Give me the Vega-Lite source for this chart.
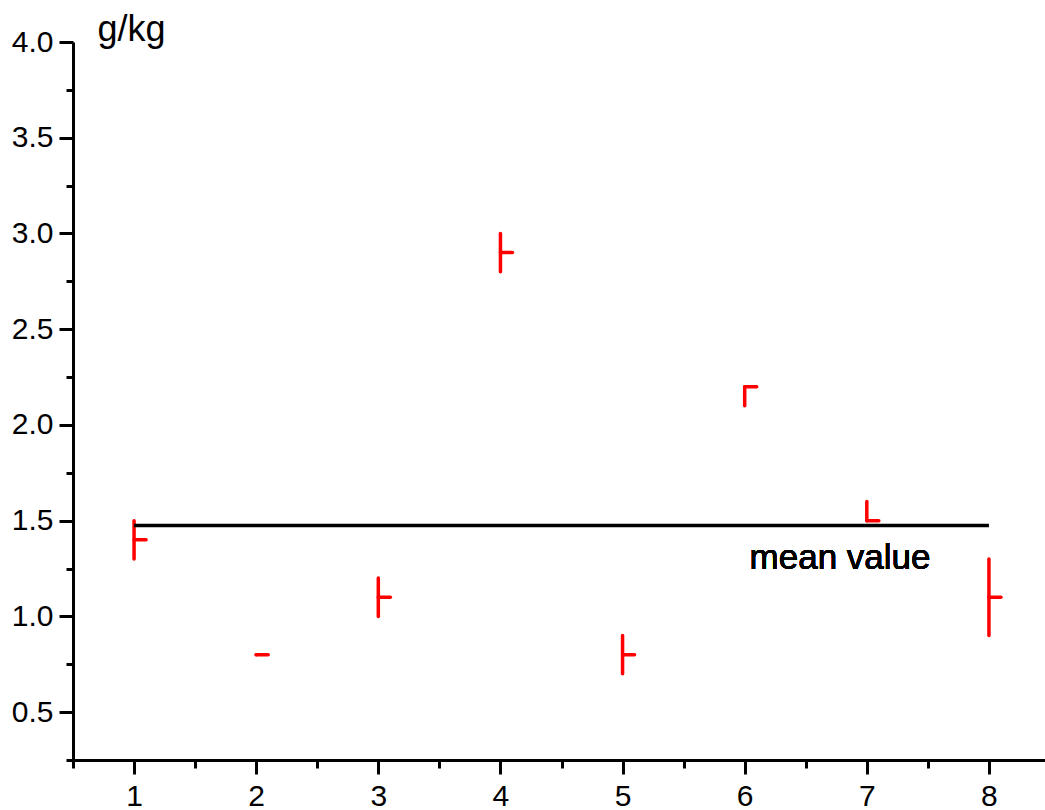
{
  "$schema": "https://vega.github.io/schema/vega-lite/v6.json",
  "width": 977,
  "height": 718,
  "autosize": {"type": "none"},
  "padding": {"left": 73, "top": 42, "right": 0, "bottom": 50},
  "background": "white",
  "config": {"view": {"stroke": null}, "font": "Liberation Sans"},
  "data": {
    "values": [
      {"x": 1, "low": 1.3, "high": 1.5, "value": 1.4},
      {"x": 2, "low": 0.8, "high": 0.8, "value": 0.8},
      {"x": 3, "low": 1.0, "high": 1.2, "value": 1.1},
      {"x": 4, "low": 2.8, "high": 3.0, "value": 2.9},
      {"x": 5, "low": 0.7, "high": 0.9, "value": 0.8},
      {"x": 6, "low": 2.1, "high": 2.2, "value": 2.2},
      {"x": 7, "low": 1.5, "high": 1.6, "value": 1.5},
      {"x": 8, "low": 0.9, "high": 1.3, "value": 1.1}
    ]
  },
  "layer": [
    {
      "mark": {"type": "rule", "color": "#ff0000", "strokeWidth": 3.5, "strokeCap": "round"},
      "encoding": {
        "x": {
          "field": "x", "type": "quantitative",
          "scale": {"domain": [0.5, 8.5], "nice": false, "zero": false},
          "axis": {
            "values": [0.5, 1, 1.5, 2, 2.5, 3, 3.5, 4, 4.5, 5, 5.5, 6, 6.5, 7, 7.5, 8, 8.5],
            "title": null, "grid": false,
            "domainColor": "black", "domainWidth": 3,
            "tickColor": "black", "tickWidth": 3,
            "tickSize": {"condition": {"test": "datum.value % 1 === 0", "value": 14}, "value": 8},
            "labelExpr": "datum.value % 1 === 0 ? format(datum.value, 'd') : ''",
            "labelFontSize": 30, "labelColor": "black", "labelPadding": 7,
            "labelFont": "Liberation Sans", "labelFlush": false, "labelOverlap": false, "labelBound": false
          }
        },
        "y": {
          "field": "low", "type": "quantitative",
          "scale": {"domain": [0.25, 4.0], "nice": false, "zero": false},
          "axis": {
            "values": [0.25, 0.5, 0.75, 1, 1.25, 1.5, 1.75, 2, 2.25, 2.5, 2.75, 3, 3.25, 3.5, 3.75, 4],
            "title": "g/kg", "titleAngle": 0, "titleAlign": "left", "titleBaseline": "alphabetic",
            "titleX": 24, "titleY": -2, "titleFontSize": 36, "titleFontWeight": "normal",
            "titleColor": "black", "titleFont": "Liberation Sans",
            "grid": false,
            "domainColor": "black", "domainWidth": 3,
            "tickColor": "black", "tickWidth": 3,
            "tickSize": {"condition": {"test": "(datum.value * 2) % 1 === 0", "value": 14}, "value": 7},
            "labelExpr": "(datum.value * 2) % 1 === 0 ? format(datum.value, '.1f') : ''",
            "labelFontSize": 30, "labelColor": "black", "labelPadding": 6,
            "labelFont": "Liberation Sans", "labelFlush": false, "labelOverlap": false, "labelBound": false
          }
        },
        "y2": {"field": "high"}
      }
    },
    {
      "mark": {"type": "rule", "color": "#ff0000", "strokeWidth": 3.5, "strokeCap": "round", "x2Offset": 12},
      "encoding": {
        "x": {"field": "x", "type": "quantitative"},
        "x2": {"field": "x"},
        "y": {"field": "value", "type": "quantitative"}
      }
    },
    {
      "transform": [
        {"aggregate": [
          {"op": "mean", "field": "value", "as": "mean"},
          {"op": "min", "field": "x", "as": "xmin"},
          {"op": "max", "field": "x", "as": "xmax"}
        ]}
      ],
      "mark": {"type": "rule", "color": "black", "strokeWidth": 3.5},
      "encoding": {
        "x": {"field": "xmin", "type": "quantitative"},
        "x2": {"field": "xmax"},
        "y": {"field": "mean", "type": "quantitative"}
      }
    },
    {
      "mark": {"type": "text", "align": "left", "baseline": "alphabetic", "fontSize": 35, "font": "Liberation Sans", "color": "black"},
      "encoding": {
        "x": {"datum": 6.04, "type": "quantitative"},
        "y": {"datum": 1.25, "type": "quantitative"},
        "text": {"value": "mean value"}
      }
    }
  ]
}
